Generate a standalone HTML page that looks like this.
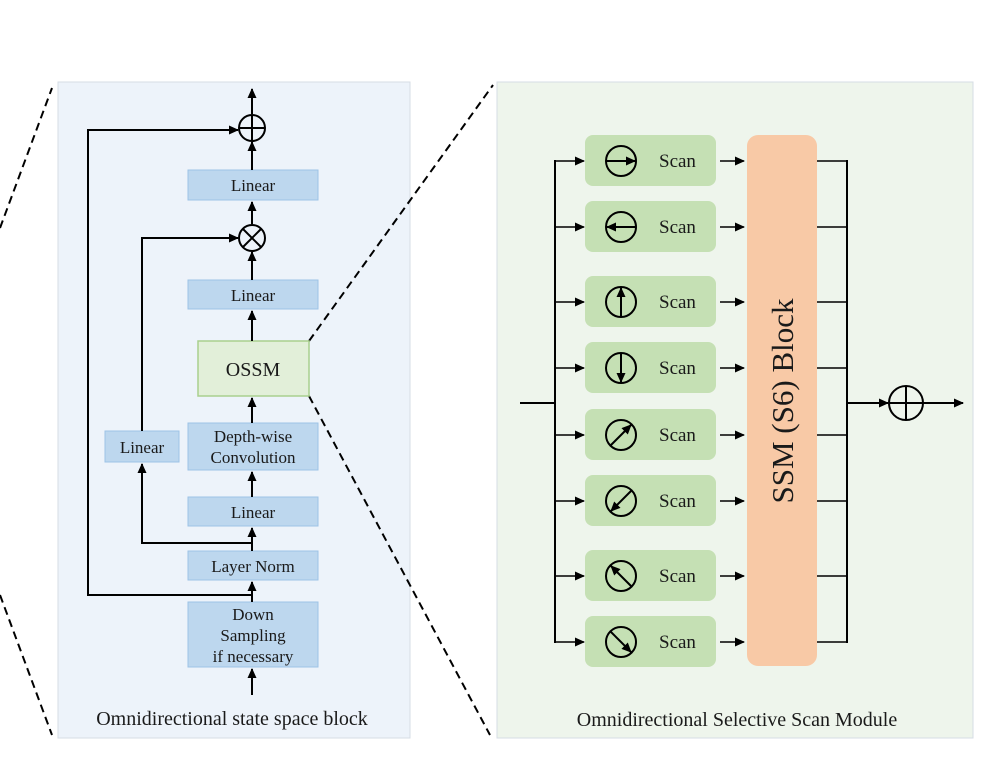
<!DOCTYPE html>
<html><head><meta charset="utf-8"><style>
html,body{margin:0;padding:0;background:#fff;}
svg{display:block;}
text{font-family:"Liberation Serif",serif;fill:#1a1a1a;}
</style></head><body>
<svg width="1001" height="764" viewBox="0 0 1001 764" xmlns="http://www.w3.org/2000/svg">
<defs>
<marker id="a" markerWidth="10" markerHeight="10" refX="9" refY="5" orient="auto" markerUnits="userSpaceOnUse">
<path d="M0,0.5 L10,5 L0,9.5 Z" fill="#000"/></marker>
<marker id="s" markerWidth="10" markerHeight="10" refX="9" refY="5" orient="auto" markerUnits="userSpaceOnUse">
<path d="M0,0.5 L10,5 L0,9.5 Z" fill="#000"/></marker>
</defs>
<rect x="58" y="82" width="352" height="656" fill="#edf3fa" stroke="#d6dde4"/>
<rect x="497" y="82" width="476" height="656" fill="#eef5ec" stroke="#d6dde4"/>
<g stroke="#000" stroke-width="2" stroke-dasharray="8,5" fill="none">
<line x1="0" y1="228" x2="52" y2="88"/>
<line x1="0" y1="595" x2="52" y2="735"/>
<line x1="309" y1="341" x2="493" y2="85"/>
<line x1="309" y1="396" x2="490" y2="735"/>
</g>
<g fill="#bdd7ee" stroke="#9dc3e6" stroke-width="1">
<rect x="188" y="170" width="130" height="30"/>
<rect x="188" y="280" width="130" height="29"/>
<rect x="188" y="423" width="130" height="47"/>
<rect x="105" y="431" width="74" height="31"/>
<rect x="188" y="497" width="130" height="29"/>
<rect x="188" y="551" width="130" height="29"/>
<rect x="188" y="602" width="130" height="65"/>
</g>
<rect x="198" y="341" width="111" height="55" fill="#e2efd9" stroke="#a9d08e" stroke-width="1.5"/>
<g font-size="17" text-anchor="middle">
<text x="253" y="191">Linear</text>
<text x="253" y="301">Linear</text>
<text x="253" y="376" font-size="20">OSSM</text>
<text x="253" y="442">Depth-wise</text>
<text x="253" y="463">Convolution</text>
<text x="142" y="453">Linear</text>
<text x="253" y="518">Linear</text>
<text x="253" y="572">Layer Norm</text>
<text x="253" y="620">Down</text>
<text x="253" y="641">Sampling</text>
<text x="253" y="662">if necessary</text>
</g>
<g stroke="#000" stroke-width="2" fill="none">
<line x1="252" y1="695" x2="252" y2="669" marker-end="url(#a)"/>
<line x1="252" y1="602" x2="252" y2="582" marker-end="url(#a)"/>
<line x1="252" y1="551" x2="252" y2="528" marker-end="url(#a)"/>
<line x1="252" y1="497" x2="252" y2="472" marker-end="url(#a)"/>
<line x1="252" y1="423" x2="252" y2="398" marker-end="url(#a)"/>
<line x1="252" y1="341" x2="252" y2="311" marker-end="url(#a)"/>
<line x1="252" y1="280" x2="252" y2="252" marker-end="url(#a)"/>
<line x1="252" y1="224" x2="252" y2="202" marker-end="url(#a)"/>
<line x1="252" y1="170" x2="252" y2="142" marker-end="url(#a)"/>
<line x1="252" y1="114" x2="252" y2="89" marker-end="url(#a)"/>
<polyline points="252,595 88,595 88,130 238,130" marker-end="url(#a)"/>
<polyline points="252,543 142,543 142,464" marker-end="url(#a)"/>
<polyline points="142,431 142,238 238,238" marker-end="url(#a)"/>
<circle cx="252" cy="128" r="13"/>
<line x1="239" y1="128" x2="265" y2="128"/><line x1="252" y1="115" x2="252" y2="141"/>
<circle cx="252" cy="238" r="13"/>
<line x1="243" y1="229" x2="261" y2="247"/><line x1="261" y1="229" x2="243" y2="247"/>
</g>
<text x="232" y="725" font-size="20" text-anchor="middle">Omnidirectional state space block</text>
<rect x="747" y="135" width="70" height="531" rx="11" fill="#f8c9a6"/>
<text transform="translate(793,401) rotate(-90)" font-size="31" text-anchor="middle">SSM (S6) Block</text>
<g fill="#c5e0b4">
<rect x="585" y="135" width="131" height="51" rx="8"/>
<rect x="585" y="201" width="131" height="51" rx="8"/>
<rect x="585" y="276" width="131" height="51" rx="8"/>
<rect x="585" y="342" width="131" height="51" rx="8"/>
<rect x="585" y="409" width="131" height="51" rx="8"/>
<rect x="585" y="475" width="131" height="51" rx="8"/>
<rect x="585" y="550" width="131" height="51" rx="8"/>
<rect x="585" y="616" width="131" height="51" rx="8"/>
</g>
<g font-size="19">
<text x="659" y="167">Scan</text><text x="659" y="233">Scan</text>
<text x="659" y="308">Scan</text><text x="659" y="374">Scan</text>
<text x="659" y="441">Scan</text><text x="659" y="507">Scan</text>
<text x="659" y="582">Scan</text><text x="659" y="648">Scan</text>
</g>
<g stroke="#000" stroke-width="2" fill="none">
<circle cx="621" cy="161" r="15"/><line x1="606" y1="161" x2="635" y2="161" marker-end="url(#s)"/>
<circle cx="621" cy="227" r="15"/><line x1="636" y1="227" x2="607" y2="227" marker-end="url(#s)"/>
<circle cx="621" cy="302" r="15"/><line x1="621" y1="317" x2="621" y2="288" marker-end="url(#s)"/>
<circle cx="621" cy="368" r="15"/><line x1="621" y1="353" x2="621" y2="382" marker-end="url(#s)"/>
<circle cx="621" cy="435" r="15"/><line x1="611" y1="445" x2="631" y2="425" marker-end="url(#s)"/>
<circle cx="621" cy="501" r="15"/><line x1="631" y1="491" x2="611" y2="511" marker-end="url(#s)"/>
<circle cx="621" cy="576" r="15"/><line x1="631" y1="586" x2="611" y2="566" marker-end="url(#s)"/>
<circle cx="621" cy="642" r="15"/><line x1="611" y1="632" x2="631" y2="652" marker-end="url(#s)"/>
<line x1="520" y1="403" x2="555" y2="403"/>
<line x1="555" y1="160" x2="555" y2="643"/>
<line x1="847" y1="160" x2="847" y2="643"/>
<line x1="847" y1="403" x2="888" y2="403" marker-end="url(#a)"/>
<circle cx="906" cy="403" r="17"/>
<line x1="889" y1="403" x2="923" y2="403"/><line x1="906" y1="386" x2="906" y2="420"/>
<line x1="923" y1="403" x2="963" y2="403" marker-end="url(#a)"/>
</g>
<g stroke="#000" stroke-width="1.6" fill="none">
<line x1="555" y1="161" x2="584" y2="161" marker-end="url(#a)"/><line x1="720" y1="161" x2="744" y2="161" marker-end="url(#a)"/><line x1="817" y1="161" x2="847" y2="161"/>
<line x1="555" y1="227" x2="584" y2="227" marker-end="url(#a)"/><line x1="720" y1="227" x2="744" y2="227" marker-end="url(#a)"/><line x1="817" y1="227" x2="847" y2="227"/>
<line x1="555" y1="302" x2="584" y2="302" marker-end="url(#a)"/><line x1="720" y1="302" x2="744" y2="302" marker-end="url(#a)"/><line x1="817" y1="302" x2="847" y2="302"/>
<line x1="555" y1="368" x2="584" y2="368" marker-end="url(#a)"/><line x1="720" y1="368" x2="744" y2="368" marker-end="url(#a)"/><line x1="817" y1="368" x2="847" y2="368"/>
<line x1="555" y1="435" x2="584" y2="435" marker-end="url(#a)"/><line x1="720" y1="435" x2="744" y2="435" marker-end="url(#a)"/><line x1="817" y1="435" x2="847" y2="435"/>
<line x1="555" y1="501" x2="584" y2="501" marker-end="url(#a)"/><line x1="720" y1="501" x2="744" y2="501" marker-end="url(#a)"/><line x1="817" y1="501" x2="847" y2="501"/>
<line x1="555" y1="576" x2="584" y2="576" marker-end="url(#a)"/><line x1="720" y1="576" x2="744" y2="576" marker-end="url(#a)"/><line x1="817" y1="576" x2="847" y2="576"/>
<line x1="555" y1="642" x2="584" y2="642" marker-end="url(#a)"/><line x1="720" y1="642" x2="744" y2="642" marker-end="url(#a)"/><line x1="817" y1="642" x2="847" y2="642"/>
</g>
<text x="737" y="726" font-size="20" text-anchor="middle">Omnidirectional Selective Scan Module</text>
</svg>
</body></html>
